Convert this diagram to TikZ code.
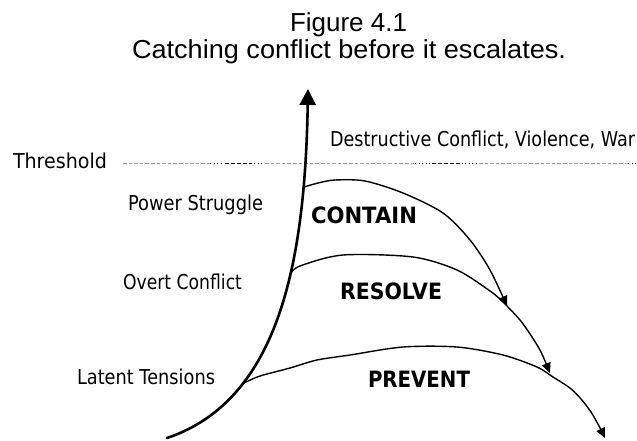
\documentclass[tikz,border=0pt]{standalone}
\usepackage{fontspec}
\usetikzlibrary{arrows.meta}
\newfontfamily\labfont{DejaVu Sans}
\newfontfamily\titlefont{Liberation Sans}
% squeeze or stretch a text horizontally to a given width, keeping its height
\newcommand\fitw[2]{\resizebox{#1}{\height}{#2}}

\tikzset{
  txt/.style={anchor=base west, inner sep=0pt, outer sep=0pt},
  title/.style={txt, font=\titlefont\fontsize{26}{30}\selectfont},
  level/.style={txt, font=\labfont\fontsize{20.5}{24}\selectfont},
  zone/.style={txt, font=\labfont\bfseries\fontsize{22.5}{26}\selectfont},
  axis/.style={line width=2.6pt, line cap=round, line join=round,
    -{Triangle[length=16pt, width=16pt]}},
  curve/.style={line width=1.4pt, line join=round,
    -{Triangle[length=10pt, width=9pt]}},
  thin gray/.style={line width=0.8pt, gray!75, dash pattern=on 3.6pt off 2pt},
  dark dots/.style={line width=0.9pt, black, dash pattern=on 1pt off 2.6pt},
  dark dash/.style={line width=0.9pt, black, dash pattern=on 4pt off 2pt},
}

\begin{document}
\begin{tikzpicture}[x=1pt, y=-1pt]
\useasboundingbox (0,0) rectangle (637,440);

% title
\node[title] (fig) at (290,31) {\fitw{117pt}{Figure 4.1}};
\node[title] (cap) at (132,58) {\fitw{434pt}{Catching conflict before it escalates.}};

% threshold line: grey dashes with darker dotted stretches
\coordinate (th0) at (123,163);
\coordinate (th1) at (637,163);
\draw[thin gray] (th0) -- (210,163);
\draw[dark dots] (210,163) -- (223,163);
\draw[dark dash] (225,163) -- (252,163);
\draw[dark dots] (254,163) -- (264,163);
\draw[thin gray] (265,163) -- (415,163);
\draw[dark dots] (415,163) -- (430,163);
\draw[dark dash] (432,163) -- (463,163);
\draw[dark dots] (465,163) -- (478,163);
\draw[thin gray] (479,163) -- (628,163);
\draw[dark dots] (628,163) -- (th1);

% labels
\node[level] (thr) at (13,168) {\fitw{94pt}{Threshold}};
\node[level] (war) at (330,146) {\fitw{305pt}{Destructive Conflict, Violence, War}};
\node[level] (pow) at (128,210) {\fitw{135pt}{Power Struggle}};
\node[level] (ovt) at (123,289) {\fitw{119pt}{Overt Conflict}};
\node[level] (lat) at (77,384) {\fitw{138pt}{Latent Tensions}};

\node[zone] (contain) at (311,223) {\fitw{106pt}{CONTAIN}};
\node[zone] (resolve) at (340,299) {\fitw{102pt}{RESOLVE}};
\node[zone] (prevent) at (368,387) {\fitw{102pt}{PREVENT}};

% escalation curve, with the points where the three arcs leave it
\coordinate (base) at (167,438);
\coordinate (top) at (308,89);
\path (base) .. controls (280,400) and (305,260) ..
  coordinate[pos=0.28] (jP) coordinate[pos=0.6] (jO) coordinate[pos=0.8] (jS) (top);
\draw[axis] (base) .. controls (280,400) and (305,260) .. (top);

% contain arc, ending on the resolve arc
\coordinate (cEnd) at (507,306);
\draw[curve] plot[smooth, tension=0.5] coordinates
  {(jS) (318,183) (335,180) (365,181) (403,193) (443,213) (470,240) (490,270) (cEnd)};

% resolve arc, ending on the prevent arc
\coordinate (rEnd) at (550,373);
\draw[curve] plot[smooth, tension=0.5] coordinates
  {(jO) (300,266) (343,255) (413,257) (457,270) (490,291) (503,302) (520,320) (532,337) (541,352) (rEnd)};

% prevent arc
\coordinate (pEnd) at (605,438);
\draw[curve] plot[smooth, tension=0.5] coordinates
  {(jP) (260,376) (290,368) (317,360) (350,355) (403,347) (457,347) (503,355) (537,367) (553,377) (570,388) (581,399) (591,412) (599,426) (pEnd)};
\end{tikzpicture}
\end{document}
